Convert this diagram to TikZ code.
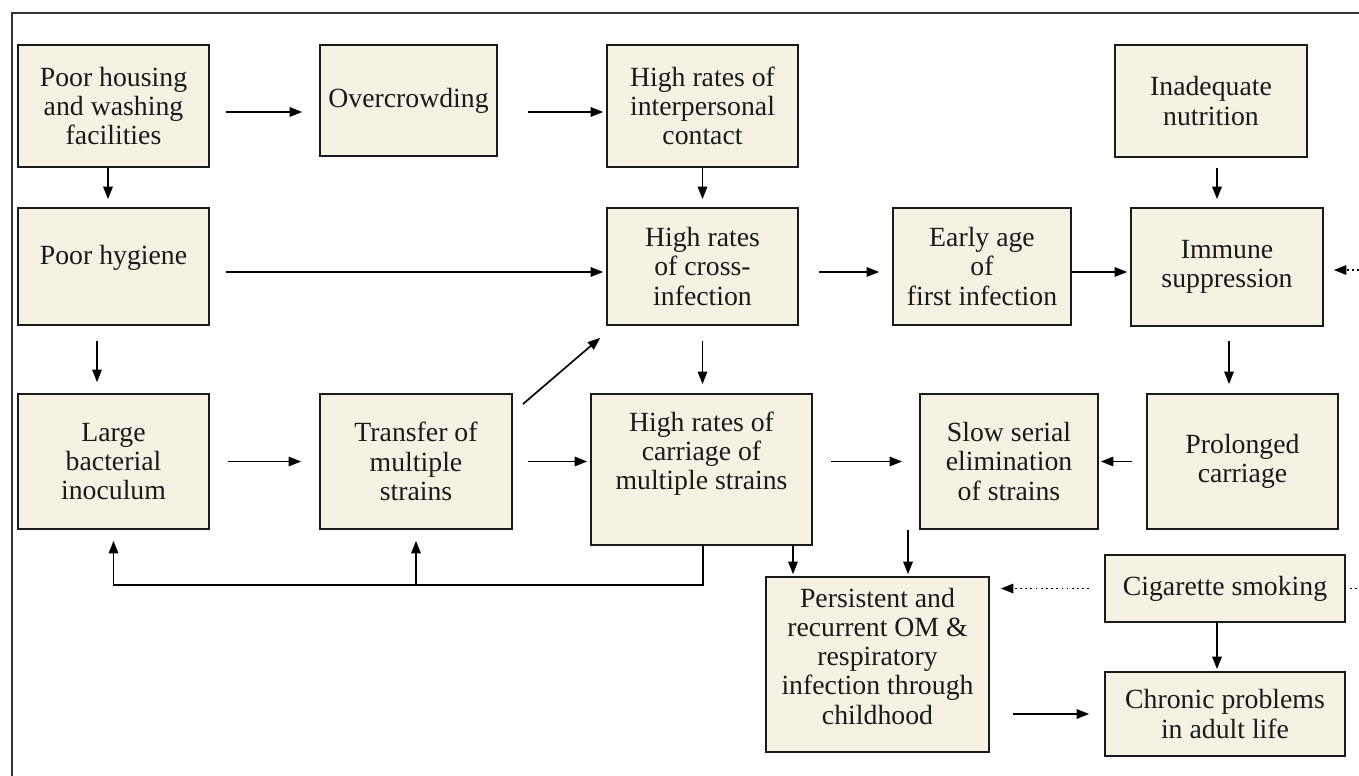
\documentclass[tikz,border=0pt]{standalone}
\usepackage{fontspec}
\setmainfont{Liberation Serif}
\usetikzlibrary{arrows.meta}
\definecolor{boxfill}{RGB}{245,241,227}
\definecolor{ink}{RGB}{26,26,26}
\tikzset{
  box/.style={draw=ink, line width=1pt, fill=boxfill, inner sep=0pt, align=center,
    font=\fontsize{15.8}{16.6}\selectfont, text=ink},
  tip/.style={-{Triangle[length=0.25cm,width=0.19cm]}},
  arr/.style={draw=black, line width=0.95pt, tip},
  ln/.style={draw=black, line width=0.95pt},
  dots/.style={draw=black, line width=0.95pt, dotted},
}
\begin{document}
\begin{tikzpicture}[x=0.02cm, y=-0.02cm]
\useasboundingbox (0,0) rectangle (1359,776);
\draw[line width=1pt, draw=black!80] (12,776) -- (12,13) -- (1359,13);

\node[box, minimum width=3.82cm, minimum height=2.44cm] (ph) at (113.5,106) {Poor housing\\and washing\\facilities};
\node[box, minimum width=3.54cm, minimum height=2.22cm] (oc) at (408.5,100.5) {Overcrowding};
\node[box, minimum width=3.82cm, minimum height=2.44cm] (hi) at (702.5,106) {High rates of\\interpersonal\\contact};
\node[box, minimum width=3.84cm, minimum height=2.24cm] (in) at (1211,101) {Inadequate\\nutrition};
\node[box, minimum width=3.82cm, minimum height=2.34cm] (hy) at (113.5,266.5) {Poor hygiene\\[-3pt]};
\node[box, minimum width=3.82cm, minimum height=2.34cm] (cr) at (702.5,266.5) {High rates\\of cross-\\infection};
\node[box, minimum width=3.56cm, minimum height=2.34cm] (ea) at (982,266.5) {Early age\\of\\first infection};
\node[box, minimum width=3.84cm, minimum height=2.36cm] (im) at (1227,267) {Immune\\suppression};
\node[box, minimum width=3.82cm, minimum height=2.70cm] (lb) at (113.5,461.5) {Large\\bacterial\\inoculum};
\node[box, minimum width=3.84cm, minimum height=2.70cm] (tr) at (416,461.5) {Transfer of\\multiple\\strains};
\node[box, minimum width=4.42cm, minimum height=3.02cm] (ca) at (701.5,469.5) {High rates of\\carriage of\\multiple strains\\[5pt]};
\node[box, minimum width=3.56cm, minimum height=2.70cm] (sl) at (1009,461.5) {Slow serial\\elimination\\of strains};
\node[box, minimum width=3.82cm, minimum height=2.70cm] (pr) at (1242.5,461.5) {Prolonged\\carriage};
\node[box, minimum width=4.80cm, minimum height=1.34cm] (cg) at (1225,588.5) {Cigarette smoking};
\node[box, minimum width=4.46cm, minimum height=3.50cm] (pe) at (877.5,664.5) {Persistent and\\recurrent OM \&\\respiratory\\infection through\\childhood\\[-7pt]};
\node[box, minimum width=4.80cm, minimum height=1.68cm] (ch) at (1225,714) {Chronic problems\\in adult life};

\coordinate (rim) at (1359,270);
\coordinate (rcg) at (1359,588.5);
\coordinate (fb) at (703,585);

% row 1
\draw[arr, shorten <=0.32cm, shorten >=0.34cm] ([yshift=-0.12cm]ph.east) -- ([yshift=-0.12cm]ph.east -| oc.west);
\draw[arr, shorten <=0.60cm, shorten >=0.06cm] ([yshift=-0.23cm]oc.east) -- ([yshift=-0.23cm]oc.east -| hi.west);
% verticals row1->row2
\draw[arr, shorten >=0.16cm] ([xshift=-0.11cm]ph.south) -- ([xshift=-0.11cm]ph.south |- hy.north);
\draw[arr, shorten >=0.16cm] (hi.south) -- (hi.south |- cr.north);
\draw[arr, shorten <=0.20cm, shorten >=0.16cm] ([xshift=0.12cm]in.south) -- ([xshift=0.12cm]in.south |- im.north);
% row 2
\draw[arr, shorten <=0.32cm, shorten >=0.06cm] ([yshift=-0.11cm]hy.east) -- ([yshift=-0.11cm]hy.east -| cr.west);
\draw[arr, shorten <=0.40cm, shorten >=0.26cm] ([yshift=-0.11cm]cr.east) -- ([yshift=-0.11cm]cr.east -| ea.west);
\draw[arr, shorten >=0.06cm] ([yshift=-0.11cm]ea.east) -- ([yshift=-0.11cm]ea.east -| im.west);
\draw[dots, tip, shorten >=0.20cm] (rim) -- (rim -| im.east);
% verticals row2->row3
\draw[arr, shorten <=0.30cm, shorten >=0.22cm] ([xshift=-0.33cm]hy.south) -- ([xshift=-0.33cm]hy.south |- lb.north);
\draw[arr, shorten <=0.30cm, shorten >=0.18cm] (cr.south) -- (cr.south |- ca.north);
\draw[arr, shorten <=0.28cm, shorten >=0.18cm] ([xshift=0.04cm]im.south) -- ([xshift=0.04cm]im.south |- pr.north);
% row 3
\draw[arr, shorten <=0.36cm, shorten >=0.36cm] (lb.east) -- (lb.east -| tr.west);
\draw[arr] ([shift={(10,11)}]tr.north east) -- ([shift={(-6,12)}]cr.south west);
\draw[arr, shorten <=0.30cm, shorten >=0.06cm] (tr.east) -- (tr.east -| ca.west);
\draw[arr, shorten <=0.36cm, shorten >=0.34cm] (sl.west -| ca.east) -- (sl.west);
\draw[arr, shorten <=0.28cm, shorten >=0.04cm] (pr.west) -- (pr.west -| sl.east);
% feedback loop
\draw[arr, shorten >=0.22cm] (ca.south -| fb) -- (fb) -| (lb.south);
\draw[arr, shorten >=0.22cm] (tr.south |- fb) -- (tr.south);
% into persistent
\draw[arr, shorten >=0.04cm] ([xshift=1.83cm]ca.south) -- ([xshift=1.83cm]ca.south |- pe.north);
\draw[arr, shorten >=0.04cm] ([xshift=-2.02cm]sl.south) -- ([xshift=-2.02cm]sl.south |- pe.north);
\draw[dots, tip, shorten <=0.30cm, shorten >=0.22cm] (cg.west) -- (cg.west -| pe.east);
\draw[dots, shorten <=0.08cm] (cg.east) -- (rcg);
\draw[arr, shorten >=0.04cm] ([xshift=-0.16cm]cg.south) -- ([xshift=-0.16cm]cg.south |- ch.north);
\draw[arr, shorten <=0.46cm, shorten >=0.30cm] (ch.west -| pe.east) -- (ch.west);
\end{tikzpicture}
\end{document}
